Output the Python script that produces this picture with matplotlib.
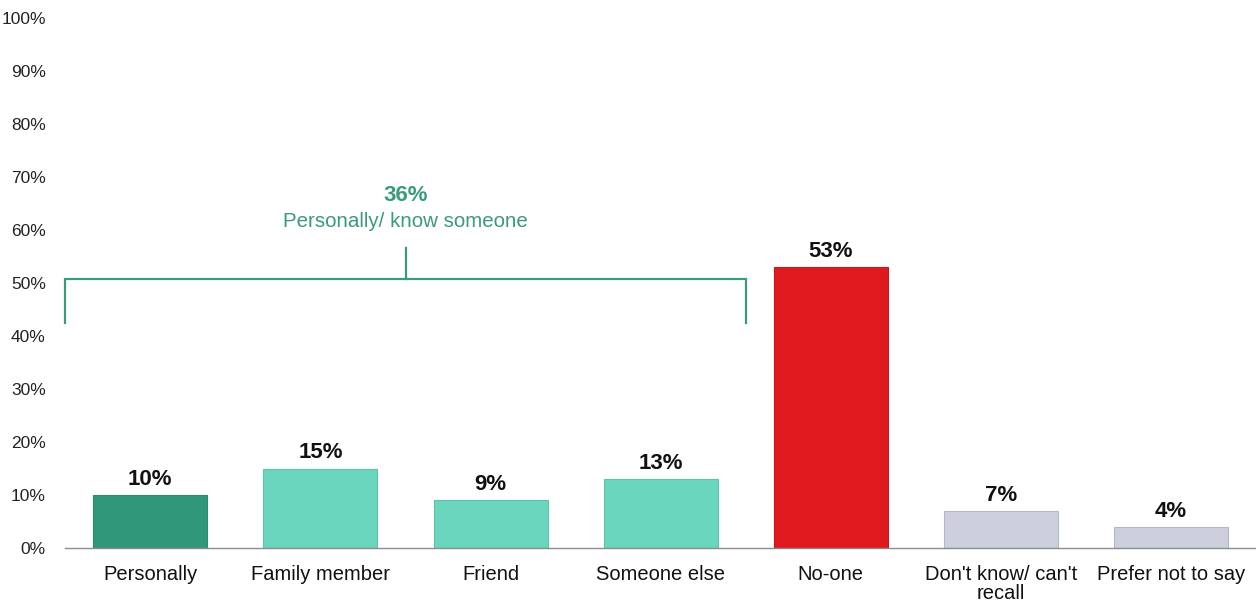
import matplotlib.pyplot as plt

plt.rcParams['font.family'] = ['Liberation Sans', 'DejaVu Sans']

categories = ["Personally", "Family member", "Friend", "Someone else",
              "No-one", "Don't know/ can't\nrecall", "Prefer not to say"]
values = [10, 15, 9, 13, 53, 7, 4]
bar_colors = ["#31977A", "#6AD6BD", "#6AD6BD", "#6AD6BD",
              "#E0191F", "#CBD0DC", "#CBD0DC"]
edge_colors = ["#2C8A6F", "#5FC2AA", "#5FC2AA", "#5FC2AA",
               "#C8161C", "#B4B9C4", "#B4B9C4"]
y_ticks = list(range(0, 101, 10))

group_total = 36
group_label = "Personally/ know someone"
green = "#3A9A7C"

fig = plt.figure(figsize=(12.56, 6.04), dpi=100)
ax = fig.add_axes([0.052, 0.0927, 0.948, 0.8775])

x = range(len(categories))
ax.bar(x, values, width=0.67, color=bar_colors, edgecolor=edge_colors, linewidth=0.8)

for xi, v in zip(x, values):
    ax.text(xi, v + 1.0, f"{v}%", ha="center", va="bottom",
            fontsize=16, fontweight="bold", color="#111111")

# bracket over the first four bars
ax.plot([-0.5, -0.5, 3.5, 3.5], [42.4, 50.8, 50.8, 42.4], color=green, lw=1.6,
        clip_on=False, solid_joinstyle="miter")
ax.plot([1.5, 1.5], [50.8, 56.6], color=green, lw=1.6)
ax.text(1.5, 66.6, f"{group_total}%", ha="center", va="center",
        fontsize=16, fontweight="bold", color=green)
ax.text(1.5, 61.6, group_label, ha="center", va="center",
        fontsize=14.8, color=green)

ax.set_xlim(-0.5, 6.5)
ax.set_ylim(0, 100)
ax.set_yticks(y_ticks)
ax.set_yticklabels([f"{t}%" for t in y_ticks], fontsize=12.5, color="#222222")
ax.set_xticks(list(x))
ax.set_xticklabels(categories, fontsize=14.5, color="#111111", linespacing=1.05)
ax.tick_params(axis="both", length=0)
ax.tick_params(axis="y", pad=14)
ax.tick_params(axis="x", pad=12)

for side in ["left", "right", "top"]:
    ax.spines[side].set_visible(False)
ax.spines["bottom"].set_color("#8C8C8C")
ax.spines["bottom"].set_linewidth(1.0)

fig.savefig("out.png", dpi=100)
